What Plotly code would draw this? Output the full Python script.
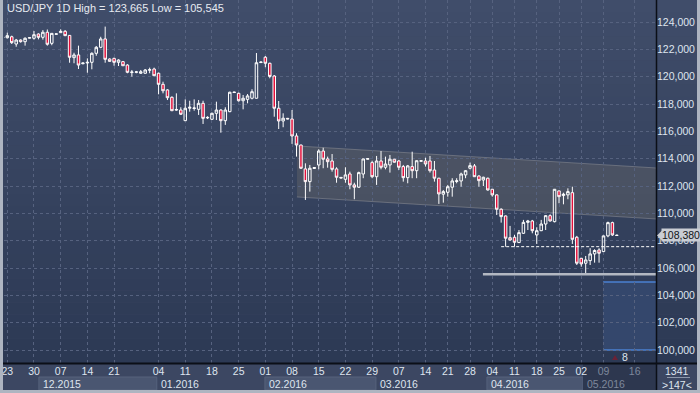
import plotly.graph_objects as go

# ---------------- data (daily bars) ----------------
opens = [122.86, 122.85, 122.92, 122.39, 122.68, 122.56, 122.82, 122.81, 123.12, 122.88,
         123.25, 122.44, 123.10, 123.22, 123.32, 123.02, 121.39, 121.59, 120.95, 121.00,
         121.05, 121.71, 122.15, 122.76, 121.29, 121.34, 121.05, 121.10, 120.85, 120.30,
         120.32, 120.25, 120.25, 120.47, 120.56, 120.25, 119.44, 119.03, 118.49, 117.55,
         117.56, 116.78, 117.69, 117.67, 117.61, 118.05, 116.98, 116.88, 117.32, 117.56,
         116.78, 117.44, 118.88, 118.78, 118.24, 118.34, 118.42, 118.42, 121.03, 121.42,
         120.98, 120.05, 117.69, 116.76, 116.95, 116.90, 115.66, 115.00, 113.25, 112.32,
         113.28, 113.54, 114.56, 113.98, 113.83, 113.25, 112.63, 112.49, 112.88, 112.08,
         111.91, 112.88, 113.96, 113.71, 112.68, 113.83, 113.37, 113.54, 113.96, 113.83,
         113.42, 112.61, 113.42, 113.12, 113.81, 113.83, 113.83, 113.17, 112.57, 111.40,
         111.54, 111.91, 112.33, 112.37, 112.81, 113.30, 113.47, 112.73, 112.44, 112.57,
         111.76, 111.35, 110.30, 109.81, 108.22, 108.25, 107.86, 108.54, 109.34, 109.44,
         108.42, 108.73, 109.22, 109.83, 109.39, 111.64, 111.30, 111.35, 111.51, 108.25,
         106.71, 106.35, 106.54, 107.03, 107.32, 107.20, 108.35, 109.32, 108.40]
highs = [122.95, 123.22, 123.00, 122.76, 122.73, 122.88, 122.87, 123.34, 123.17, 123.41,
         123.45, 123.19, 123.15, 123.47, 123.41, 123.05, 121.75, 122.27, 121.02, 121.34,
         121.78, 122.24, 122.92, 123.665, 121.34, 121.39, 121.27, 121.15, 120.91, 120.49,
         120.42, 120.49, 120.56, 120.66, 120.66, 120.29, 119.63, 119.08, 118.56, 118.78,
         117.76, 118.34, 118.24, 118.34, 118.29, 118.24, 117.10, 117.37, 118.17, 117.61,
         117.76, 118.90, 118.90, 118.83, 118.66, 118.73, 119.08, 121.73, 121.10, 121.51,
         121.02, 120.12, 118.22, 117.32, 116.98, 117.56, 115.86, 115.02, 113.66, 113.54,
         113.38, 114.69, 114.80, 114.15, 114.34, 113.37, 112.66, 113.37, 113.05, 112.24,
         113.05, 114.00, 114.02, 113.85, 114.20, 114.56, 114.15, 114.27, 113.98, 113.91,
         113.54, 113.54, 114.51, 113.88, 113.90, 114.07, 114.20, 113.83, 112.60, 111.71,
         112.08, 112.57, 112.57, 112.98, 113.17, 113.71, 113.61, 112.79, 112.68, 112.61,
         111.78, 111.38, 110.37, 109.84, 109.08, 108.42, 108.78, 109.52, 109.52, 109.52,
         108.98, 109.52, 109.88, 109.93, 111.78, 111.66, 111.51, 111.83, 111.95, 108.35,
         106.74, 106.88, 107.45, 107.37, 107.45, 108.37, 109.39, 109.39, 108.45]
lows = [122.80, 122.80, 122.39, 122.19, 122.49, 122.27, 122.80, 122.71, 122.73, 122.71,
        122.27, 122.30, 123.08, 123.20, 122.97, 121.02, 120.98, 120.56, 120.90, 120.29,
        120.54, 121.53, 122.08, 121.02, 121.10, 120.80, 120.78, 120.78, 120.25, 120.00,
        120.25, 120.20, 120.22, 120.25, 120.05, 118.71, 118.78, 118.29, 117.48, 117.50,
        117.20, 116.76, 117.44, 117.51, 117.20, 116.54, 116.90, 116.83, 116.83, 115.90,
        116.47, 117.40, 118.82, 118.17, 117.61, 118.05, 118.34, 118.40, 121.00, 120.69,
        119.88, 117.07, 116.17, 116.30, 116.88, 115.08, 114.15, 113.25, 110.98, 111.59,
        113.25, 113.22, 113.30, 113.34, 113.05, 112.24, 112.56, 112.24, 111.76, 111.03,
        111.88, 112.57, 113.94, 112.57, 112.08, 113.22, 113.22, 112.98, 113.72, 113.17,
        112.32, 112.20, 112.57, 112.57, 113.76, 113.42, 112.98, 112.32, 110.69, 110.78,
        111.22, 111.22, 112.20, 111.95, 112.57, 113.22, 112.66, 111.95, 112.00, 111.66,
        111.22, 109.88, 109.32, 107.56, 108.00, 107.56, 107.84, 108.50, 108.78, 108.54,
        107.76, 108.70, 108.78, 109.40, 109.34, 110.74, 110.66, 111.03, 107.76, 106.22,
        106.10, 105.545, 106.22, 106.39, 106.39, 107.18, 108.25, 108.35, 108.35]
closes = [122.90, 123.00, 122.49, 122.68, 122.56, 122.81, 122.85, 123.07, 122.88, 123.25,
          122.37, 123.17, 123.13, 123.32, 123.00, 121.42, 121.59, 120.85, 121.00, 121.05,
          121.71, 122.15, 122.76, 121.27, 121.12, 121.05, 121.22, 120.80, 120.32, 120.34,
          120.35, 120.36, 120.49, 120.51, 120.07, 119.44, 118.97, 118.46, 117.51, 117.60,
          117.25, 117.69, 117.76, 117.71, 118.05, 116.95, 117.02, 117.32, 117.56, 116.78,
          117.56, 118.86, 118.84, 118.24, 118.42, 118.59, 118.90, 121.02, 121.07, 120.98,
          120.02, 117.69, 116.76, 116.96, 116.91, 115.66, 115.00, 113.30, 112.32, 113.30,
          113.35, 114.56, 113.96, 113.78, 113.22, 112.64, 112.59, 112.81, 112.08, 111.91,
          112.98, 113.98, 114.00, 112.68, 113.83, 113.37, 113.61, 113.96, 113.74, 113.37,
          112.61, 113.47, 113.12, 113.85, 113.85, 113.61, 113.12, 112.57, 111.42, 111.59,
          111.95, 112.37, 112.38, 112.88, 113.12, 113.49, 112.68, 112.39, 112.64, 111.71,
          111.35, 110.30, 109.76, 108.18, 108.05, 107.88, 108.59, 109.34, 109.44, 108.73,
          108.73, 109.22, 109.83, 109.44, 111.76, 111.22, 111.40, 111.59, 108.10, 106.35,
          106.30, 106.59, 107.03, 107.28, 107.08, 108.35, 109.32, 108.42, 108.38]
bar_index = list(range(len(opens)))

x_tick_pos = [1, 7, 13, 19, 25, 35, 41, 47, 53, 59, 65, 71, 77, 83, 89, 95, 100, 105,
              110, 115, 120, 125, 130, 135, 142]
x_tick_text = ["23", "30", "07", "14", "21", "04", "11", "18", "25", "01", "08", "15",
               "22", "29", "07", "14", "21", "28", "04", "11", "18", "25", "02", "09", "16"]
future_from = 130.4          # bars after this are in the "future" area
month_labels = ["12.2015", "01.2016", "02.2016", "03.2016", "04.2016", "05.2016"]
month_start = [8.1, 34.6, 58.9, 83.85, 108.8, 130.4]

y_tick_vals = [100, 102, 104, 106, 108, 110, 112, 114, 116, 118, 120, 122, 124]
y_tick_text = [f"{v},000" for v in y_tick_vals]

channel_x = [66.1, 146.8]
channel_upper = [114.93, 113.32]
channel_lower = [111.20, 109.59]
support_level = 107.56
support_from = 112.0
low_level = min(lows)
low_from = 107.9
box_from = 134.9
box_top, box_bottom = 104.98, 100.0
symbol = "USD/JPY"
timeframe = "1D"
bars_total, bars_shift = "1341", ">147<"
box_count = "8"

# ---------------- geometry ----------------
W, H = 700, 393
ML, MR, MT, MB = 4, 44, 0, 30
X_RANGE = [0.26, 146.8]
Y_RANGE = [99.049, 125.61]
PW, PH = W - ML - MR, H - MT - MB


def px_x(px):
    return (px - ML) / PW


def px_y(py):
    return (H - MB - py) / PH


FONT = "Liberation Sans, Arial, sans-serif"
TXT = "#dfe5ef"
RED = "#e3103b"

shapes = []

# vertical gradient of background (plot + price panel)
top_c, bot_c = (64, 77, 106), (44, 57, 84)
N = 30
for k in range(N):
    t = (k + 0.5) / N
    c = tuple(int(round(top_c[i] + (bot_c[i] - top_c[i]) * t)) for i in range(3))
    shapes.append(dict(type="rect", xref="paper", yref="paper", layer="below",
                       x0=px_x(0), x1=px_x(W), y0=px_y(PH * (k + 1) / N), y1=px_y(PH * k / N),
                       fillcolor="rgb(%d,%d,%d)" % c, line=dict(width=0)))

# blue box
shapes.append(dict(type="rect", xref="x", yref="y", layer="below", x0=box_from, x1=150,
                   y0=box_bottom, y1=box_top, fillcolor="#34476c", line=dict(width=0)))
for yv in (box_top, box_bottom):
    shapes.append(dict(type="line", xref="x", yref="y", layer="below", x0=box_from, x1=150,
                       y0=yv, y1=yv, line=dict(color="#4a80d2", width=1.5)))

# channel
shapes.append(dict(type="path", xref="x", yref="y", layer="below",
                   path=f"M {channel_x[0]},{channel_upper[0]} L {channel_x[1]},{channel_upper[1]} "
                        f"L {channel_x[1]},{channel_lower[1]} L {channel_x[0]},{channel_lower[0]} Z",
                   fillcolor="rgba(104,104,104,0.40)", line=dict(width=0)))
for yy in (channel_upper, channel_lower):
    shapes.append(dict(type="line", xref="x", yref="y", layer="below",
                       x0=channel_x[0], x1=channel_x[1], y0=yy[0], y1=yy[1],
                       line=dict(color="rgba(140,142,150,0.55)", width=1)))

# support lines
shapes.append(dict(type="line", xref="x", yref="y", x0=support_from, x1=150,
                   y0=support_level, y1=support_level,
                   line=dict(color="white", width=1, dash="3px,2px")))
shapes.append(dict(type="line", xref="x", yref="y", x0=low_from, x1=150,
                   y0=low_level, y1=low_level, line=dict(color="#b3b8c2", width=2.5)))

# bottom axis: day row + month bands
shapes.append(dict(type="rect", xref="paper", yref="paper", layer="below",
                   x0=px_x(0), x1=px_x(W), y0=px_y(H), y1=px_y(PH),
                   fillcolor="#3c4762", line=dict(width=0)))
month_end = month_start[1:] + [X_RANGE[1]]
for k, (a, b) in enumerate(zip(month_start, month_end)):
    if k % 2 == 0 and k < len(month_labels) - 1:
        shapes.append(dict(type="rect", xref="x", yref="paper", layer="below",
                           x0=a, x1=b, y0=px_y(390), y1=px_y(377),
                           fillcolor="#4a5671", line=dict(color="#56627c", width=1)))
# future area on the time axis
shapes.append(dict(type="rect", xref="x", yref="paper", layer="below",
                   x0=future_from, x1=150, y0=px_y(390), y1=px_y(364),
                   fillcolor="#2d374f", line=dict(width=0)))

# separators and frame
shapes.append(dict(type="line", xref="paper", yref="paper", x0=px_x(0), x1=px_x(W),
                   y0=px_y(363.5), y1=px_y(363.5), line=dict(color="#0b0f17", width=2)))
shapes.append(dict(type="line", xref="paper", yref="paper", x0=px_x(656.5), x1=px_x(656.5),
                   y0=px_y(390), y1=px_y(0), line=dict(color="#0b0f17", width=1.5)))
shapes.append(dict(type="rect", xref="paper", yref="paper", x0=px_x(0), x1=px_x(3),
                   y0=px_y(H), y1=px_y(0), fillcolor="#aeb5c1", line=dict(width=0)))
shapes.append(dict(type="rect", xref="paper", yref="paper", x0=px_x(697), x1=px_x(W),
                   y0=px_y(H), y1=px_y(0), fillcolor="#aeb5c1", line=dict(width=0)))
shapes.append(dict(type="rect", xref="paper", yref="paper", x0=px_x(0), x1=px_x(W),
                   y0=px_y(H), y1=px_y(390), fillcolor="#aeb5c1", line=dict(width=0)))
shapes.append(dict(type="line", xref="paper", yref="paper", x0=px_x(667), x1=px_x(690),
                   y0=px_y(377.5), y1=px_y(377.5), line=dict(color="#8d97aa", width=1)))
# price tag arrow
shapes.append(dict(type="path", xref="paper", yref="paper",
                   path=f"M {px_x(657)},{px_y(235.5)} L {px_x(662)},{px_y(230.5)} "
                        f"L {px_x(662)},{px_y(240.5)} Z",
                   fillcolor="#c9cdd4", line=dict(width=0)))
# small marker next to the box count
shapes.append(dict(type="path", xref="paper", yref="paper",
                   path=f"M {px_x(612)},{px_y(360)} L {px_x(618)},{px_y(360)} "
                        f"L {px_x(615)},{px_y(355)} Z",
                   fillcolor="#6b2236", line=dict(width=0)))

annotations = []
annotations.append(dict(xref="paper", yref="paper", x=px_x(5), y=px_y(8), xanchor="left",
                        yanchor="middle", showarrow=False,
                        text=f"{symbol} {timeframe} High = {max(highs):.3f}".replace(".", ",")
                             + f" Low = {min(lows):.3f}".replace(".", ","),
                        font=dict(family=FONT, size=11, color="#e6eaf1")))
for k, (lab, a) in enumerate(zip(month_labels, month_start)):
    annotations.append(dict(xref="x", yref="paper", x=a, y=px_y(384), xanchor="left",
                            yanchor="middle", xshift=2, showarrow=False, text=lab,
                            font=dict(family=FONT, size=10.5,
                                      color="#7e889c" if k == len(month_labels) - 1 else TXT)))
last_close = closes[-1]
annotations.append(dict(xref="paper", yref="y", x=px_x(661), y=last_close, xanchor="left",
                        yanchor="middle", showarrow=False,
                        text=f"{last_close:.3f}".replace(".", ","), bgcolor="#c9cdd4",
                        borderpad=0, font=dict(family=FONT, size=10.5, color="#111418")))
annotations.append(dict(xref="paper", yref="paper", x=px_x(677), y=px_y(371), xanchor="center",
                        yanchor="middle", showarrow=False, text=bars_total,
                        font=dict(family=FONT, size=10.5, color=TXT)))
annotations.append(dict(xref="paper", yref="paper", x=px_x(677), y=px_y(385), xanchor="center",
                        yanchor="middle", showarrow=False, text=bars_shift,
                        font=dict(family=FONT, size=10.5, color=TXT)))
annotations.append(dict(xref="paper", yref="paper", x=px_x(625), y=px_y(357), xanchor="center",
                        yanchor="middle", showarrow=False, text=box_count,
                        font=dict(family=FONT, size=10.5, color=TXT)))

tick_text = [t if p <= future_from else f'<span style="color:#7e889c">{t}</span>'
             for p, t in zip(x_tick_pos, x_tick_text)]

fig = go.Figure(go.Candlestick(
    x=bar_index, open=opens, high=highs, low=lows, close=closes,
    increasing=dict(line=dict(color="white", width=1), fillcolor="rgba(0,0,0,0)"),
    decreasing=dict(line=dict(color="white", width=1), fillcolor=RED),
    whiskerwidth=0, showlegend=False, hoverinfo="skip"))

fig.update_layout(
    width=W, height=H, margin=dict(l=ML, r=MR, t=MT, b=MB, pad=0),
    paper_bgcolor="#3c4762", plot_bgcolor="rgba(0,0,0,0)",
    boxgap=0.2, showlegend=False,
    shapes=shapes, annotations=annotations,
    xaxis=dict(range=X_RANGE, tickvals=x_tick_pos, ticktext=tick_text, showgrid=True,
               gridcolor="#56627f", griddash="3px,3px", gridwidth=1, zeroline=False,
               showline=False, ticks="", rangeslider=dict(visible=False), fixedrange=True,
               tickfont=dict(family=FONT, size=10.5, color=TXT)),
    yaxis=dict(range=Y_RANGE, side="right", tickvals=y_tick_vals, ticktext=y_tick_text,
               showgrid=True, gridcolor="#56627f", griddash="3px,3px", gridwidth=1,
               zeroline=False, showline=False, ticks="", fixedrange=True,
               tickfont=dict(family=FONT, size=10.5, color=TXT)),
)

fig.write_html("out.html")
